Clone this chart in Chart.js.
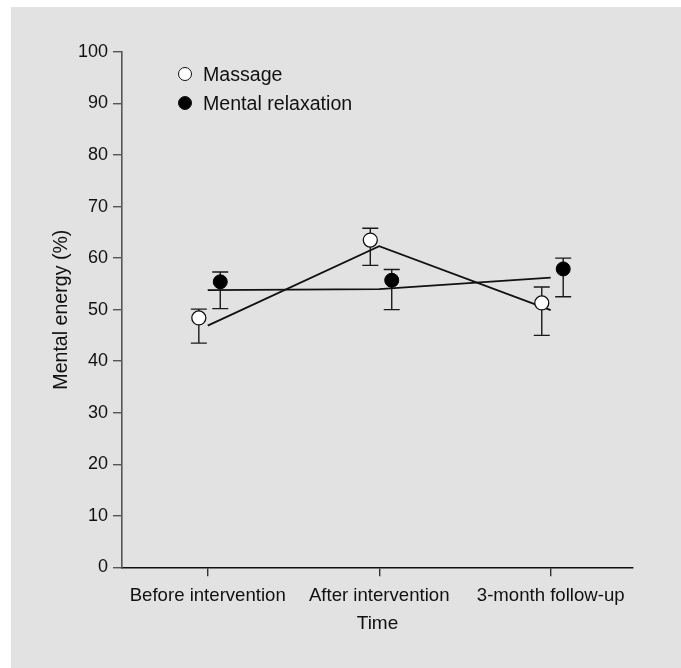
<!DOCTYPE html>
<html>
<head>
<meta charset="utf-8">
<script src="https://cdn.jsdelivr.net/npm/chart.js@4"></script>
<style>
  body { margin: 0; background: #fff; font-family: "Liberation Sans", Arial, sans-serif; }
  #box { position: absolute; left: 11px; top: 7px; width: 670px; height: 661px; background: #e2e2e2; }
  #chart { position: absolute; left: 0; top: 0; }
  .leg { position: absolute; left: 192px; font-size: 19.6px; color: #111; line-height: 22px; }
  .dot { position: absolute; left: -25px; top: 4px; width: 12px; height: 12px; border-radius: 50%; border: 1.4px solid #111; }
</style>
</head>
<body>
<div id="box">
  <canvas id="chart" width="670" height="661"></canvas>
  <div class="leg" style="top:56px"><span class="dot" style="background:#fff"></span>Massage</div>
  <div class="leg" style="top:85px"><span class="dot" style="background:#000"></span>Mental relaxation</div>
</div>
<script>
// categories on the time axis
const categories = ['Before intervention', 'After intervention', '3-month follow-up'];

// group means and error bar ends (%)
const massageMean = [48.4, 63.5, 51.3];
const massageLow  = [43.5, 58.6, 45.0];
const massageHigh = [50.1, 65.8, 54.4];

const relaxMean = [55.4, 55.7, 57.9];
const relaxLow  = [50.2, 50.0, 52.5];
const relaxHigh = [57.3, 57.8, 60.0];

// fitted lines drawn through the category centres
const massageFit = [46.9, 62.3, 49.9];
const relaxFit   = [53.8, 54.0, 56.2];

const yTicks = [0, 10, 20, 30, 40, 50, 60, 70, 80, 90, 100];

// horizontal shift of each group's markers inside a category
const massageShift = -0.052;
const relaxShift = 0.073;

const pts = (vals, shift) => vals.map((v, i) => ({ x: i + shift, y: v }));

const errorBars = {
  id: 'errorBars',
  beforeDatasetsDraw(chart) {
    const { ctx, scales: { x, y } } = chart;
    const groups = [
      { lo: massageLow, hi: massageHigh, shift: massageShift },
      { lo: relaxLow, hi: relaxHigh, shift: relaxShift }
    ];
    ctx.save();
    ctx.strokeStyle = '#1a1a1a';
    ctx.lineWidth = 1.4;
    groups.forEach(g => {
      g.lo.forEach((lo, i) => {
        const px = x.getPixelForValue(i + g.shift);
        const yl = y.getPixelForValue(lo);
        const yh = y.getPixelForValue(g.hi[i]);
        ctx.beginPath();
        ctx.moveTo(px, yl); ctx.lineTo(px, yh);
        ctx.moveTo(px - 8, yl); ctx.lineTo(px + 8, yl);
        ctx.moveTo(px - 8, yh); ctx.lineTo(px + 8, yh);
        ctx.stroke();
      });
    });
    ctx.restore();
  }
};

new Chart(document.getElementById('chart'), {
  type: 'scatter',
  data: {
    datasets: [
      {
        label: 'Massage',
        data: pts(massageMean, massageShift),
        pointRadius: 7, pointHoverRadius: 7,
        pointBackgroundColor: '#fff', pointBorderColor: '#111', pointBorderWidth: 1.3,
        order: 1
      },
      {
        label: 'Mental relaxation',
        data: pts(relaxMean, relaxShift),
        pointRadius: 7, pointHoverRadius: 7,
        pointBackgroundColor: '#000', pointBorderColor: '#000', pointBorderWidth: 1,
        order: 1
      },
      {
        type: 'line', label: 'massage fit',
        data: pts(massageFit, 0),
        borderColor: '#111', borderWidth: 1.8, pointRadius: 0, fill: false,
        order: 3
      },
      {
        type: 'line', label: 'relaxation fit',
        data: pts(relaxFit, 0),
        borderColor: '#111', borderWidth: 1.8, pointRadius: 0, fill: false,
        order: 3
      }
    ]
  },
  options: {
    responsive: false,
    animation: false,
    layout: { padding: { top: 45, right: 48, bottom: 0, left: 0 } },
    plugins: { legend: { display: false }, tooltip: { enabled: false } },
    scales: {
      x: {
        type: 'linear',
        min: -0.5, max: 2.48,
        afterBuildTicks: s => { s.ticks = categories.map((c, i) => ({ value: i })); },
        afterFit: s => { s.height = 100.7; },
        border: { color: '#111', width: 1.6 },
        grid: { drawOnChartArea: false, drawTicks: true, tickLength: 9, color: '#333', lineWidth: 1.4 },
        ticks: {
          padding: 8,
          color: '#111',
          font: { family: 'Liberation Sans', size: 18.6 },
          maxRotation: 0,
          callback: v => categories[v]
        },
        title: {
          display: true, text: 'Time', color: '#111',
          font: { family: 'Liberation Sans', size: 19 },
          padding: { top: 0, bottom: 33 }
        }
      },
      y: {
        min: 0, max: 100,
        afterBuildTicks: s => { s.ticks = yTicks.map(v => ({ value: v })); },
        afterFit: s => { s.width = 111; },
        border: { color: '#555', width: 1.6 },
        grid: { drawOnChartArea: false, drawTicks: true, tickLength: 9, color: '#555', lineWidth: 1.4 },
        ticks: {
          padding: 5,
          color: '#111',
          font: { family: 'Liberation Sans', size: 18 }
        },
        title: {
          display: true, text: 'Mental energy (%)', color: '#111',
          font: { family: 'Liberation Sans', size: 19.6 },
          padding: { top: 39, bottom: 0 }
        }
      }
    }
  },
  plugins: [errorBars]
});
</script>
</body>
</html>
